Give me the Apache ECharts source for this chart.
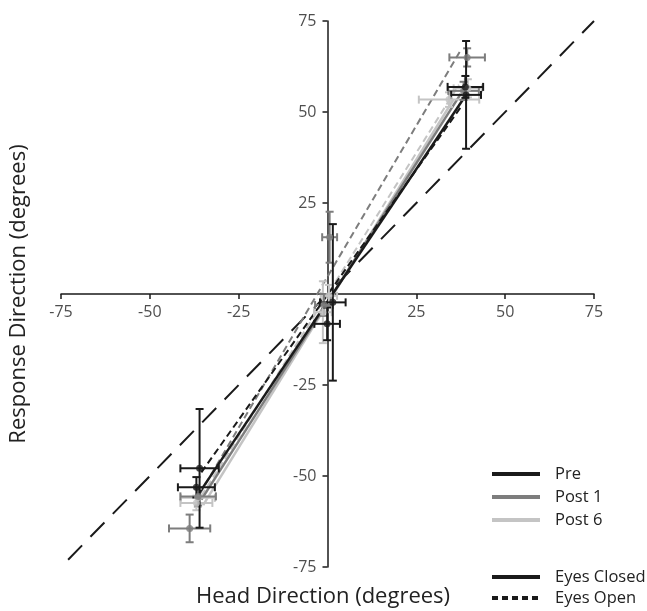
<!DOCTYPE html>
<html>
<head>
<meta charset="utf-8">
<script src="https://cdn.jsdelivr.net/npm/echarts@6.0.0/dist/echarts.min.js"></script>
<style>
  html, body { margin: 0; padding: 0; background: #fff; }
  #chart { width: 647px; height: 611px; }
</style>
</head>
<body>
<div id="chart"></div>
<script>
// tick labels (0 is left blank on both axes)
const tickValues = [-75, -50, -25, 0, 25, 50, 75]
const tickLabels = [-75, -50, -25, 25, 50, 75]

// identity line
const unityX = [-73, 75]
const unityY = [-73, 75]

// Pre
const preClosedX = [-36.9, -0.1, 38.8]
const preClosedY = [-53.1, -8.2, 56.9]
const preClosedXErr = [5.2, 3.6, 5.0]
const preClosedYErr = [2.8, 4.5, 3.0]
const preClosedFitX = [-36, 38.5]
const preClosedFitY = [-54.5, 54]

const preOpenX = [-36.0, 1.5, 39.0]
const preOpenY = [-47.9, -2.3, 54.7]
const preOpenXErr = [5.4, 3.6, 4.2]
const preOpenYErr = [16.3, 21.5, 14.8]
const preOpenFitX = [-35.5, 38]
const preOpenFitY = [-49, 52]

// Post 1
const post1ClosedX = [-36.4, -1.0, 38.3]
const post1ClosedY = [-55.6, -3.0, 55.8]
const post1ClosedXErr = [5.0, 2.5, 4.3]
const post1ClosedYErr = [2.5, 3.0, 2.5]
const post1ClosedFitX = [-35.5, 37.5]
const post1ClosedFitY = [-56.5, 55]

const post1OpenX = [-38.8, 0.6, 39.3]
const post1OpenY = [-64.4, 15.6, 65.0]
const post1OpenXErr = [5.8, 2.1, 5.0]
const post1OpenYErr = [3.8, 7.0, 2.5]
const post1OpenFitX = [-36, 37.5]
const post1OpenFitY = [-55, 67]

// Post 6
const post6ClosedX = [-36.9, 0.4, 34.2]
const post6ClosedY = [-57.4, -0.5, 53.4]
const post6ClosedXErr = [4.5, 2.3, 8.5]
const post6ClosedYErr = [2.0, 3.0, 2.0]
const post6ClosedFitX = [-35, 35.5]
const post6ClosedFitY = [-58, 53.5]

const post6OpenX = [-36.5, -1.3, 39.5]
const post6OpenY = [-56.0, -5.0, 56.5]
const post6OpenXErr = [4.8, 2.5, 4.0]
const post6OpenYErr = [2.5, 8.5, 2.5]
const post6OpenFitX = [-35.5, 37]
const post6OpenFitY = [-55.5, 57.5]

const BLACK = '#1a1a1a'
const GRAY = '#7d7d7d'
const LIGHT = '#c4c4c4'
const FONT = 'Open Sans'

const groups = [
  { name: 'Post 6 closed', color: LIGHT, dash: false, x: post6ClosedX, y: post6ClosedY, xe: post6ClosedXErr, ye: post6ClosedYErr, fx: post6ClosedFitX, fy: post6ClosedFitY },
  { name: 'Post 6 open', color: LIGHT, dash: true, x: post6OpenX, y: post6OpenY, xe: post6OpenXErr, ye: post6OpenYErr, fx: post6OpenFitX, fy: post6OpenFitY },
  { name: 'Post 1 closed', color: GRAY, dash: false, x: post1ClosedX, y: post1ClosedY, xe: post1ClosedXErr, ye: post1ClosedYErr, fx: post1ClosedFitX, fy: post1ClosedFitY },
  { name: 'Post 1 open', color: GRAY, dash: true, x: post1OpenX, y: post1OpenY, xe: post1OpenXErr, ye: post1OpenYErr, fx: post1OpenFitX, fy: post1OpenFitY },
  { name: 'Pre closed', color: BLACK, dash: false, x: preClosedX, y: preClosedY, xe: preClosedXErr, ye: preClosedYErr, fx: preClosedFitX, fy: preClosedFitY },
  { name: 'Pre open', color: BLACK, dash: true, x: preOpenX, y: preOpenY, xe: preOpenXErr, ye: preOpenYErr, fx: preOpenFitX, fy: preOpenFitY }
]

const errorBars = (color) => (params, api) => {
  const x = api.value(0), y = api.value(1)
  const pL = api.coord([api.value(2), y])
  const pR = api.coord([api.value(3), y])
  const pB = api.coord([x, api.value(4)])
  const pT = api.coord([x, api.value(5)])
  const c = 4
  const style = { stroke: color, lineWidth: 2 }
  const seg = (x1, y1, x2, y2) => ({ type: 'line', shape: { x1, y1, x2, y2 }, style })
  return {
    type: 'group',
    children: [
      seg(pL[0], pL[1], pR[0], pR[1]),
      seg(pL[0], pL[1] - c, pL[0], pL[1] + c),
      seg(pR[0], pR[1] - c, pR[0], pR[1] + c),
      seg(pB[0], pB[1], pT[0], pT[1]),
      seg(pB[0] - c, pB[1], pB[0] + c, pB[1]),
      seg(pT[0] - c, pT[1], pT[0] + c, pT[1])
    ]
  }
}

const labelStyle = { fontSize: 16, color: '#222', fontFamily: FONT }

const series = [
  {
    name: 'unity',
    type: 'line',
    data: unityX.map((v, i) => [v, unityY[i]]),
    symbol: 'none',
    clip: false,
    lineStyle: { color: BLACK, width: 2, type: [20, 12] },
    z: 1,
    silent: true
  },
  // tick labels sitting on the zero lines
  {
    name: 'x ticks',
    type: 'scatter',
    data: tickLabels.map(v => [v, 0]),
    symbolSize: 0,
    silent: true,
    label: { show: true, position: 'bottom', distance: 10, formatter: p => String(p.value[0]), ...labelStyle },
    z: 30
  },
  {
    name: 'y ticks',
    type: 'scatter',
    data: tickLabels.map(v => [0, v]),
    symbolSize: 0,
    silent: true,
    label: { show: true, position: 'left', distance: 11, formatter: p => String(p.value[1]), ...labelStyle },
    z: 30
  }
]

groups.forEach((g, k) => {
  series.push({
    name: g.name + ' fit',
    type: 'line',
    data: g.fx.map((v, i) => [v, g.fy[i]]),
    symbol: 'none',
    lineStyle: { color: g.color, width: g.dash ? 2 : 2.5, type: g.dash ? [7, 4] : 'solid' },
    z: 2 + k
  })
  series.push({
    name: g.name + ' err',
    type: 'custom',
    data: g.x.map((v, i) => [v, g.y[i], v - g.xe[i], v + g.xe[i], g.y[i] - g.ye[i], g.y[i] + g.ye[i]]),
    renderItem: errorBars(g.color),
    encode: { x: 0, y: 1 },
    z: 10 + k
  })
  series.push({
    name: g.name,
    type: 'scatter',
    data: g.x.map((v, i) => [v, g.y[i]]),
    symbol: 'circle',
    symbolSize: 7,
    itemStyle: { color: g.color },
    z: 20 + k
  })
})

const axisCommon = {
  type: 'value',
  min: tickValues[0],
  max: tickValues[tickValues.length - 1],
  interval: 25,
  splitLine: { show: false },
  axisLine: { onZero: true, lineStyle: { color: BLACK, width: 1.5 } },
  axisTick: { show: true, length: 5, lineStyle: { color: BLACK, width: 1.5 } },
  axisLabel: { show: false }
}

const legendRows = [
  { label: 'Pre', y: 474, color: BLACK, dash: false },
  { label: 'Post 1', y: 497, color: GRAY, dash: false },
  { label: 'Post 6', y: 520, color: LIGHT, dash: false },
  { label: 'Eyes Closed', y: 577, color: BLACK, dash: false },
  { label: 'Eyes Open', y: 598, color: BLACK, dash: true }
]

const graphic = []
legendRows.forEach(r => {
  graphic.push({
    type: 'line',
    shape: { x1: 492, y1: r.y, x2: 540, y2: r.y },
    style: { stroke: r.color, lineWidth: 4, lineDash: r.dash ? [6, 4] : null }
  })
  graphic.push({
    type: 'text',
    x: 555,
    y: r.y,
    style: { text: r.label, font: '16.5px "' + FONT + '"', fill: '#222', textVerticalAlign: 'middle' }
  })
})
graphic.push({
  type: 'text',
  x: 323,
  y: 597,
  style: { text: 'Head Direction (degrees)', font: '22px "' + FONT + '"', fill: '#222', textAlign: 'center', textVerticalAlign: 'middle' }
})
graphic.push({
  type: 'text',
  x: 19,
  y: 294,
  rotation: Math.PI / 2,
  style: { text: 'Response Direction (degrees)', font: '22px "' + FONT + '"', fill: '#222', textAlign: 'center', textVerticalAlign: 'middle' }
})

const chart = echarts.init(document.getElementById('chart'))
chart.setOption({
  animation: false,
  backgroundColor: '#fff',
  grid: { left: 61, right: 53, top: 21, bottom: 44 },
  xAxis: axisCommon,
  yAxis: axisCommon,
  series,
  graphic
})
window.onresize = function () {
  chart.resize()
}
</script>
</body>
</html>
